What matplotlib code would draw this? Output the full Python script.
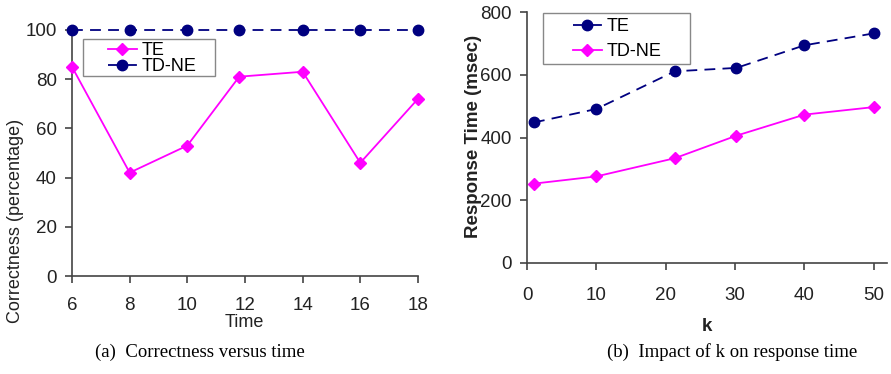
import matplotlib.pyplot as plt
from matplotlib.patches import Rectangle

plt.rcParams['font.family'] = ['Liberation Sans', 'DejaVu Sans']

# (a) correctness versus time
time = [6, 8, 10, 11.8, 14, 16, 18]
time_ticks = [6, 8, 10, 12, 14, 16, 18]
te_correct = [85, 42, 53, 81, 83, 46, 72]
tdne_correct = [100, 100, 100, 100, 100, 100, 100]

# (b) impact of k on response time
k = [1, 10, 21.3, 30.2, 40, 50]
k_ticks = [0, 10, 20, 30, 40, 50]
te_resp = [448, 491, 611, 622, 694, 732]
tdne_resp = [253, 276, 334, 406, 473, 497]

magenta = '#ff00ff'
navy = '#000080'
grey = '#444444'
txt = '#222222'

fig = plt.figure(figsize=(8.91, 3.74), dpi=100)

ax1 = fig.add_axes([0.0808, 0.262, 0.3883, 0.658])
ax2 = fig.add_axes([0.5915, 0.2968, 0.404, 0.671])

# left plot
ax1.plot(time, te_correct, color=magenta, lw=1.3, marker='D', ms=6,
         label='TE', clip_on=False, zorder=3)
ax1.plot(time, tdne_correct, color=navy, lw=1.3, ls=(0, (6, 4)), marker='o',
         ms=7.5, label='TD-NE', clip_on=False, zorder=3)
ax1.set_xlim(6, 18)
ax1.set_ylim(0, 100)
ax1.set_xticks(time_ticks)
ax1.set_yticks([0, 20, 40, 60, 80, 100])

# right plot
ax2.plot(k, te_resp, color=navy, lw=1.3, ls=(0, (6, 4)), marker='o', ms=7.5,
         label='TE', clip_on=False, zorder=3)
ax2.plot(k, tdne_resp, color=magenta, lw=1.3, marker='D', ms=6,
         label='TD-NE', clip_on=False, zorder=3)
ax2.set_xlim(0, 51.9)
ax2.set_ylim(0, 800)
ax2.set_xticks(k_ticks)
ax2.set_yticks([0, 200, 400, 600, 800])

for ax in (ax1, ax2):
    ax.spines['top'].set_visible(False)
    ax.spines['right'].set_visible(False)
    for s in ('left', 'bottom'):
        ax.spines[s].set_color(grey)
        ax.spines[s].set_linewidth(1.2)
    ax.tick_params(direction='out', length=5, width=1.2, color=grey,
                   labelsize=13.5, labelcolor=txt, pad=6)
ax1.tick_params(axis='x', pad=10)
ax2.tick_params(axis='x', pad=12.5)

fig.text(0.017, 0.41, 'Correctness (percentage)', rotation=90, fontsize=13,
         ha='center', va='center', color=txt)
fig.text(0.274, 0.137, 'Time', fontsize=13, ha='center', va='center',
         color=txt)
fig.text(0.531, 0.636, 'Response Time (msec)', rotation=90, fontsize=13.5,
         fontweight='bold', ha='center', va='center', color=txt)
fig.text(0.793, 0.126, 'k', fontsize=13.5, fontweight='bold', ha='center',
         va='center', color=txt)

# legend boxes drawn by hand so the padding matches
fig.patches.append(Rectangle((0.0932, 0.7968), 0.1481, 0.0989,
                             transform=fig.transFigure, fill=False,
                             edgecolor='#888888', lw=1.0))
fig.patches.append(Rectangle((0.6094, 0.8289), 0.165, 0.1364,
                             transform=fig.transFigure, fill=False,
                             edgecolor='#888888', lw=1.0))

ax1.legend(loc='upper left', bbox_to_anchor=(0.1212, 0.8877),
           bbox_transform=fig.transFigure, fontsize=13, frameon=False,
           handlelength=1.6, handletextpad=0.25, labelspacing=-0.05,
           borderpad=0, borderaxespad=0)
ax2.legend(loc='upper left', bbox_to_anchor=(0.6431, 0.9519),
           bbox_transform=fig.transFigure, fontsize=13, frameon=False,
           handlelength=1.6, handletextpad=0.25, labelspacing=0.45,
           borderpad=0, borderaxespad=0)

fig.text(0.2245, 0.059, '(a)  Correctness versus time',
         family='Liberation Serif', fontsize=13.5, ha='center', va='center')
fig.text(0.822, 0.059, '(b)  Impact of k on response time',
         family='Liberation Serif', fontsize=13.5, ha='center', va='center')

fig.savefig('out.png', dpi=100)
